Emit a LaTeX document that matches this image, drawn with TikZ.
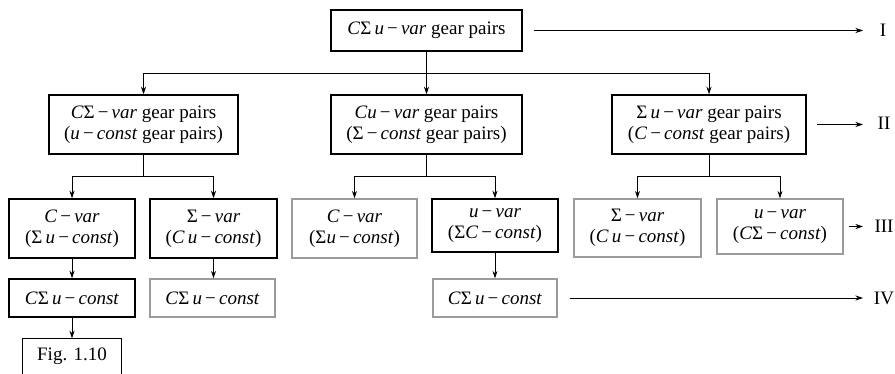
\documentclass[tikz,border=0pt]{standalone}
\usepackage{fontspec}
\setmainfont{Liberation Serif}
\usetikzlibrary{arrows.meta}
\newcommand{\mi}[1]{\textit{#1}}
\newcommand{\mmin}{\,\char"2212\,}
\definecolor{boxgray}{RGB}{155,155,155}
\begin{document}
\begin{tikzpicture}[x=1pt,y=-1pt,
  box/.style={draw, line width=1.5pt, align=center, inner sep=0pt,
    font=\fontsize{19}{21}\selectfont},
  gbox/.style={box, draw=boxgray, line width=1.2pt},
  conn/.style={line width=0.9pt},
  arr/.style={conn, -{Stealth[length=7.5pt,width=5pt]}},
  lab/.style={inner sep=0pt, font=\fontsize{19}{21}\selectfont}]
\useasboundingbox (0,0) rectangle (895,374);
% level 1
\node[box, minimum width=191pt, minimum height=41pt] (top) at (426.5,30.5)
  {\mi{C}Σ\,\mi{u}\mmin\mi{var} gear pairs};
% level 2
\node[box, minimum width=189pt, minimum height=59pt] (l2) at (143.5,124.5)
  {\mi{C}Σ\mmin\mi{var} gear pairs\\(\mi{u}\mmin\mi{const} gear pairs)};
\node[box, minimum width=191pt, minimum height=59pt] (m2) at (426.5,124.5)
  {\mi{Cu}\mmin\mi{var} gear pairs\\(Σ\mmin\mi{const} gear pairs)};
\node[box, minimum width=194pt, minimum height=59pt] (r2) at (709,124.5)
  {Σ\,\mi{u}\mmin\mi{var} gear pairs\\(\mi{C}\mmin\mi{const} gear pairs)};
% level 3
\node[box, minimum width=126pt, minimum height=59pt] (b1) at (72,228.5)
  {\mi{C}\mmin\mi{var}\\(Σ\,\mi{u}\mmin\mi{const})};
\node[box, minimum width=127pt, minimum height=59pt] (b2) at (213.5,228.5)
  {Σ\mmin\mi{var}\\(\mi{C}\,\mi{u}\mmin\mi{const})};
\node[gbox, minimum width=125pt, minimum height=59pt] (b3) at (354.5,228.5)
  {\mi{C}\mmin\mi{var}\\(Σ\mi{u}\mmin\mi{const})};
\node[box, minimum width=126pt, minimum height=53pt] (b4) at (495,225.5)
  {\mi{u}\mmin\mi{var}\\(Σ\mi{C}\mmin\mi{const})};
\node[gbox, minimum width=127pt, minimum height=58pt] (b5) at (637.5,228)
  {Σ\mmin\mi{var}\\(\mi{C}\,\mi{u}\mmin\mi{const})};
\node[gbox, minimum width=126pt, minimum height=55pt] (b6) at (780,226.5)
  {\mi{u}\mmin\mi{var}\\(\mi{C}Σ\mmin\mi{const})};
% level 4
\node[box, minimum width=126pt, minimum height=38pt] (c1) at (72,298)
  {\mi{C}Σ\,\mi{u}\mmin\mi{const}};
\node[gbox, minimum width=125pt, minimum height=38pt] (c2) at (212.5,298)
  {\mi{C}Σ\,\mi{u}\mmin\mi{const}};
\node[gbox, minimum width=124pt, minimum height=38pt] (c4) at (495,298)
  {\mi{C}Σ\,\mi{u}\mmin\mi{const}};
% Fig box (open at bottom)
\node[box, draw=none, minimum width=98pt, minimum height=35pt] (fig) at (72,356.5) {Fig. 1.10};
\draw[line width=1pt] (fig.south west) -- (fig.north west) -- (fig.north east) -- (fig.south east);
% labels
\node[lab] (L1) at (883,30.5) {I};
\node[lab] (L2) at (884,123) {II};
\node[lab] (L3) at (884,226.5) {III};
\node[lab] (L4) at (884,298) {IV};
\coordinate (ex) at (863,0);
\draw[arr] ([xshift=11pt]top.east) -- (top.east -| ex);
\draw[arr] ([xshift=10pt]r2.east) -- (r2.east -| ex);
\draw[arr] ([xshift=5pt]b6.east) -- (b6.east -| ex);
\draw[arr] ([xshift=12pt]c4.east) -- (c4.east -| ex);
% tree connectors
\coordinate (j1) at (426.5,73);
\draw[arr] (top.south) -- (m2.north);
\draw[arr] (j1) -| (l2.north);
\draw[arr] (j1) -| (r2.north);
\coordinate (j2) at (143.5,176);
\coordinate (j3) at (426.5,176);
\coordinate (j4) at (709,176);
\draw[conn] (l2.south) -- (j2);
\draw[conn] (m2.south) -- (j3);
\draw[conn] (r2.south) -- (j4);
\draw[arr] (j2) -| (b1.north);
\draw[arr] (j2) -| (b2.north);
\draw[arr] (j3) -| (b3.north);
\draw[arr] (j3) -| (b4.north);
\draw[arr] (j4) -| (b5.north);
\draw[arr] (j4) -| (b6.north);
\draw[arr] (b1.south) -- (c1.north);
\draw[arr] (b2.south) -- (c2.north -| b2.south);
\draw[arr] (b4.south) -- (c4.north);
\draw[arr] (c1.south) -- (fig.north);
\end{tikzpicture}
\end{document}
